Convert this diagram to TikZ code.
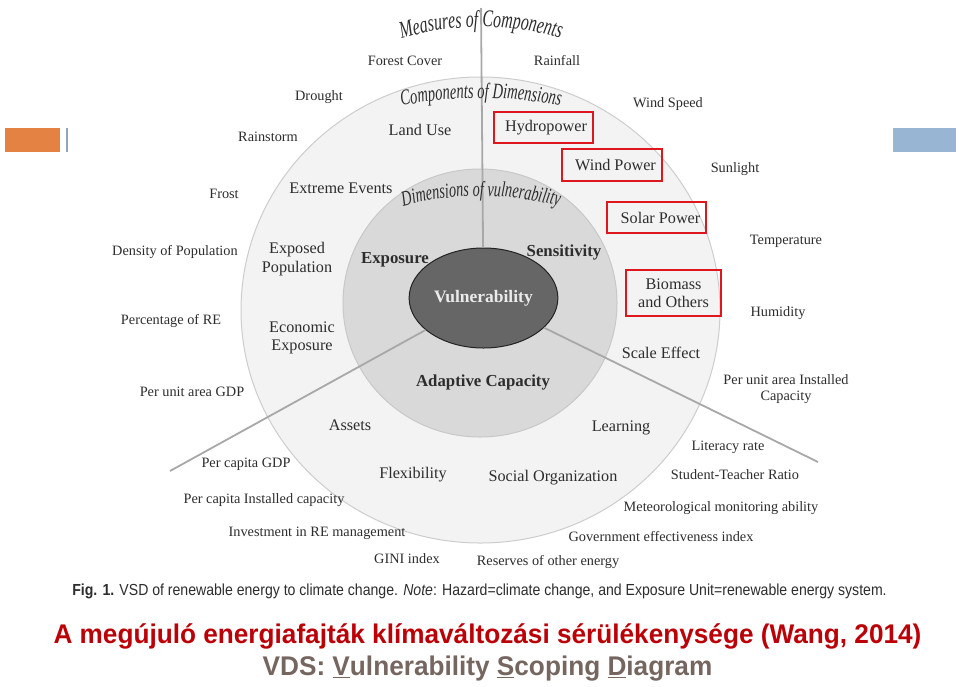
\documentclass[tikz,border=0pt]{standalone}
\usepackage{fontspec}
\setmainfont{Liberation Serif}
\newfontfamily\arcfont[FakeStretch=0.66]{Liberation Serif Italic}
\newfontfamily\capfont[FakeStretch=0.88]{Liberation Sans}
\newfontfamily\titlefont[FakeStretch=0.97]{Liberation Sans}
\usetikzlibrary{shapes.geometric,decorations.text,calc}
\definecolor{vsdink}{RGB}{45,45,45}
\definecolor{vsdouter}{RGB}{243,243,243}
\definecolor{vsdouteredge}{RGB}{205,205,205}
\definecolor{vsdmid}{RGB}{217,217,217}
\definecolor{vsdmidedge}{RGB}{200,200,200}
\definecolor{vsdcore}{RGB}{102,102,102}
\definecolor{vsdcoreedge}{RGB}{35,35,35}
\definecolor{vsdspoke}{RGB}{168,168,168}
\definecolor{vsdred}{RGB}{222,22,30}
\definecolor{vsdtitle}{RGB}{188,0,8}
\definecolor{vsdsub}{RGB}{118,102,96}
\definecolor{vsdorange}{RGB}{228,130,68}
\definecolor{vsdblue}{RGB}{152,182,212}
\tikzset{
  measure/.style={font=\fontsize{14.3}{16.5}\selectfont, text=vsdink, align=center, inner sep=0pt},
  comp/.style={font=\fontsize{16.2}{18.5}\selectfont, text=vsdink, align=center, inner sep=0pt},
  dimen/.style={font=\fontsize{16.8}{19}\selectfont\bfseries, text=vsdink, inner sep=0pt},
  rebox/.style={comp, draw=vsdred, line width=2.6pt},
  spoke/.style={draw=vsdspoke, line width=1.8pt},
  arctext/.style={decorate, decoration={text along path, text align=center, text color=vsdink}}
}
\begin{document}
\begin{tikzpicture}[x=1pt, y=-1pt]
  \useasboundingbox[fill=white] (0,0) rectangle (960,686);
  % side bars
  \fill[vsdorange] (5,128) rectangle (60,152);
  \draw[vsdblue!70!gray, line width=1.4pt] (67,128) -- (67,152);
  \fill[vsdblue] (893,128) rectangle (956,152);
  % rings
  \draw[fill=vsdouter, draw=vsdouteredge, line width=1pt] (480.5,310) ellipse [x radius=239.5pt, y radius=233pt];
  \draw[fill=vsdmid, draw=vsdmidedge, line width=1pt] (480,303) ellipse [x radius=137pt, y radius=134pt];
  % core and spokes
  \node[ellipse, draw=vsdcoreedge, fill=vsdcore, line width=1pt, minimum width=115pt, minimum height=100pt,
    font=\fontsize{17.5}{20}\selectfont\bfseries, text=white!92!black] (vul) at (483.5,298) {Vulnerability};
  \coordinate (topend) at (481,8);
  \coordinate (swend) at (170,471);
  \coordinate (seend) at (818,462);
  \draw[spoke] (vul) -- (topend);
  \draw[spoke] (vul) -- (swend);
  \draw[spoke] (vul) -- (seend);
  % curved headings
  \path[arctext, decoration={text={|\arcfont\fontsize{24}{26}\selectfont|Measures of Components}}]
    ($(481,307)+(252:280)$) arc [start angle=252, end angle=288, radius=280];
  \path[arctext, decoration={text={|\arcfont\fontsize{22}{24}\selectfont|Components of Dimensions}}]
    ($(481,498)+(257.5:400)$) arc [start angle=257.5, end angle=282.5, radius=400];
  \path[arctext, decoration={text={|\arcfont\fontsize{21.5}{24}\selectfont|Dimensions of vulnerability}}]
    ($(481,496)+(253:300)$) arc [start angle=253, end angle=287, radius=300];
  % dimensions
  \node[dimen] (exposure) at (395,260) {Exposure};
  \node[dimen] (sensitivity) at (564,252) {Sensitivity};
  \node[dimen] (adaptive) at (483,382) {Adaptive Capacity};
  % components
  \node[comp] (landuse) at (420,130) {Land Use};
  \node[comp] (extreme) at (341,188) {Extreme Events};
  \node[comp] (exppop) at (297,259) {Exposed\\Population};
  \node[comp] (econexp) at (302,338) {Economic\\Exposure};
  \node[comp] (assets) at (350,425) {Assets};
  \node[comp] (flex) at (413,475) {Flexibility};
  \node[comp] (socorg) at (553,478) {Social Organization};
  \node[comp] (learning) at (621,428) {Learning};
  \node[comp] (scale) at (661,353) {Scale Effect};
  \node[rebox, minimum width=99pt, minimum height=31pt] (hydro) at (543.5,127.5) {\hspace*{5pt}Hydropower};
  \node[rebox, minimum width=100pt, minimum height=32pt] (windpow) at (612,165) {\hspace*{7pt}Wind Power};
  \node[rebox, minimum width=99pt, minimum height=31pt] (solar) at (656.5,217.5) {\hspace*{8pt}Solar Power};
  \node[rebox, minimum width=95pt, minimum height=46pt] (biomass) at (673.5,293) {Biomass\\and Others};
  % measures
  \node[measure] (forest) at (405,61) {Forest Cover};
  \node[measure] (rainfall) at (557,61) {Rainfall};
  \node[measure] (drought) at (319,97) {Drought};
  \node[measure] (windspd) at (668,104) {Wind Speed};
  \node[measure] (rainstorm) at (268,137) {Rainstorm};
  \node[measure] (sunlight) at (735,169) {Sunlight};
  \node[measure] (frost) at (224,194) {Frost};
  \node[measure] (temp) at (786,241) {Temperature};
  \node[measure] (density) at (175,252) {Density of Population};
  \node[measure] (humidity) at (778,313) {Humidity};
  \node[measure] (pctre) at (171,321) {Percentage of RE};
  \node[measure] (instcap) at (786,389) {Per unit area Installed\\Capacity};
  \node[measure] (areagdp) at (192,392) {Per unit area GDP};
  \node[measure] (capgdp) at (246,464) {Per capita GDP};
  \node[measure] (literacy) at (728,447) {Literacy rate};
  \node[measure] (capinst) at (264,500) {Per capita Installed capacity};
  \node[measure] (student) at (735,475) {Student-Teacher Ratio};
  \node[measure] (invest) at (317,533) {Investment in RE management};
  \node[measure] (meteo) at (721,508) {Meteorological monitoring ability};
  \node[measure] (gini) at (407,559) {GINI index};
  \node[measure] (govern) at (661,537) {Government effectiveness index};
  \node[measure] (reserves) at (548,562) {Reserves of other energy};
  % caption and title
  \node[font=\capfont\fontsize{16}{18}\selectfont, text=vsdink, inner sep=0pt] (caption) at (479.5,591)
    {\textbf{Fig. 1.} VSD of renewable energy to climate change. \textit{Note}: Hazard=climate change, and Exposure Unit=renewable energy system.};
  \node[font=\titlefont\fontsize{27}{30}\selectfont\bfseries, text=vsdtitle, inner sep=0pt] (title) at (487.5,636)
    {A megújuló energiafajták klímaváltozási sérülékenysége (Wang, 2014)};
  \node[font=\titlefont\fontsize{27}{30}\selectfont\bfseries, text=vsdsub, inner sep=0pt] (subtitle) at (487.5,669)
    {VDS: \underline{V}ulnerability \underline{S}coping \underline{D}iagram};
\end{tikzpicture}
\end{document}
